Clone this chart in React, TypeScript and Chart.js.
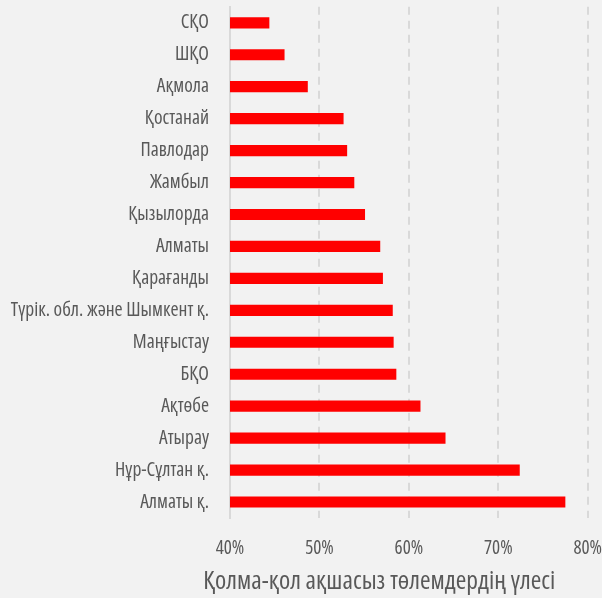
import React, { useEffect, useRef } from "react";
import { Chart, registerables } from "chart.js";

Chart.register(...registerables);

const regions: string[] = [
  "СҚО",
  "ШҚО",
  "Ақмола",
  "Қостанай",
  "Павлодар",
  "Жамбыл",
  "Қызылорда",
  "Алматы",
  "Қарағанды",
  "Түрік. обл. және Шымкент қ.",
  "Маңғыстау",
  "БҚО",
  "Ақтөбе",
  "Атырау",
  "Нұр-Сұлтан қ.",
  "Алматы қ.",
];

const shares: number[] = [
  44.4, 46.1, 48.7, 52.7, 53.1, 53.9, 55.1, 56.8, 57.1, 58.2, 58.3, 58.6, 61.3, 64.1, 72.4, 77.5,
];

const xTicks: number[] = [40, 50, 60, 70, 80];
const axisTitle = "Қолма-қол ақшасыз төлемдердің үлесі";

const FONT = "'Open Sans', sans-serif";
const TEXT = "#595959";
const GRID = "#d9d9d9";

const titlePlugin = {
  id: "bottomTitle",
  afterDraw(chart: any) {
    const ctx = chart.ctx;
    ctx.save();
    ctx.font = `condensed 25.5px ${FONT}`;
    ctx.fillStyle = TEXT;
    ctx.textAlign = "center";
    ctx.textBaseline = "middle";
    ctx.fillText(axisTitle, chart.width * 0.63, chart.height - 16);
    ctx.restore();
  },
};

export default function App() {
  const ref = useRef<HTMLCanvasElement | null>(null);

  useEffect(() => {
    document.body.style.margin = "0";
    document.body.style.background = "#f2f2f2";
    if (!ref.current) return;
    const chart = new Chart(ref.current, {
      type: "bar",
      data: {
        labels: regions,
        datasets: [
          {
            data: shares,
            backgroundColor: "#ff0000",
            borderWidth: 0,
            categoryPercentage: 1,
            barPercentage: 0.35,
          },
        ],
      },
      plugins: [titlePlugin],
      options: {
        indexAxis: "y",
        animation: false,
        responsive: true,
        maintainAspectRatio: false,
        layout: { padding: { top: 0, right: 3.5, bottom: 0, left: 0 } },
        plugins: { legend: { display: false }, tooltip: { enabled: false } },
        scales: {
          x: {
            min: 40,
            max: 80,
            afterBuildTicks: (scale: any) => {
              scale.ticks = xTicks.map((v) => ({ value: v }));
            },
            afterFit: (scale: any) => {
              scale.height = 80;
            },
            ticks: {
              color: TEXT,
              font: { family: FONT, size: 19, weight: "condensed" as any },
              padding: 0,
              callback: (v: any) => `${v}%`,
            },
            grid: {
              color: (ctx: any) => (ctx.tick && ctx.tick.value === 40 ? "rgba(0,0,0,0)" : GRID),
              lineWidth: 2,
              drawTicks: true,
              tickLength: 19,
              tickColor: "rgba(0,0,0,0)",
            },
            border: { display: false, dash: [8, 6] },
          },
          y: {
            afterFit: (scale: any) => {
              scale.width = 230;
            },
            ticks: {
              color: TEXT,
              font: { family: FONT, size: 19.5, weight: "condensed" as any, lineHeight: 0.7 },
              padding: 0,
            },
            grid: {
              display: true,
              drawOnChartArea: false,
              drawTicks: true,
              tickLength: 21,
              color: "rgba(0,0,0,0)",
            },
            border: { display: true, color: GRID, width: 2 },
          },
        },
      },
    });
    return () => chart.destroy();
  }, []);

  return (
    <div style={{ position: "relative", width: 602, height: 598, background: "#f2f2f2" }}>
      <canvas ref={ref} />
    </div>
  );
}
